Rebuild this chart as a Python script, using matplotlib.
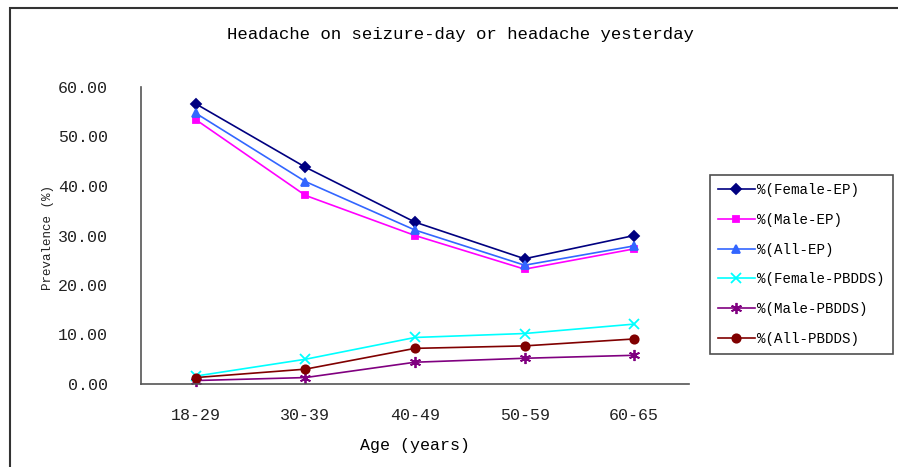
import matplotlib.pyplot as plt
import matplotlib.patches as patches

ages = ['18-29', '30-39', '40-49', '50-59', '60-65']
female_ep = [56.6, 43.8, 32.7, 25.3, 30.0]
male_ep = [53.4, 38.1, 30.0, 23.2, 27.3]
all_ep = [54.7, 40.9, 31.1, 24.0, 27.9]
female_pbdds = [1.6, 5.0, 9.4, 10.2, 12.1]
male_pbdds = [0.7, 1.3, 4.4, 5.2, 5.8]
all_pbdds = [1.3, 3.0, 7.2, 7.7, 9.1]
yticks = [0, 10, 20, 30, 40, 50, 60]

plt.rcParams['font.family'] = ['Liberation Mono', 'DejaVu Sans Mono']

fig = plt.figure(figsize=(8.98, 4.67), dpi=100)
ax = fig.add_axes([141 / 898, 1 - 384 / 467, 548 / 898, 297 / 467])

x = list(range(len(ages)))
series = [
    (female_ep, '%(Female-EP)', '#000080', 'D', 5),
    (male_ep, '%(Male-EP)', '#ff00ff', 's', 5),
    (all_ep, '%(All-EP)', '#3366ff', '^', 6),
    (female_pbdds, '%(Female-PBDDS)', '#00ffff', 'x', 7),
    (male_pbdds, '%(Male-PBDDS)', '#800080', (6, 2, 0), 8),
    (all_pbdds, '%(All-PBDDS)', '#800000', 'o', 6),
]
for vals, lab, col, mk, ms in series:
    ax.plot(x, vals, color=col, marker=mk, ms=ms, lw=1.2, mew=1.3,
            label=lab, clip_on=False)

ax.set_xlim(-0.5, len(ages) - 0.5)
ax.set_ylim(0, 60)
ax.set_xticks(x)
ax.set_xticklabels(ages, fontsize=12)
ax.set_yticks(yticks)
ax.set_yticklabels(['%.2f' % v for v in yticks], fontsize=12)
ax.tick_params(length=0, colors='#222222')
ax.tick_params(axis='y', pad=24)
ax.tick_params(axis='x', pad=17)
for s in ['top', 'right']:
    ax.spines[s].set_visible(False)
for s in ['left', 'bottom']:
    ax.spines[s].set_color('#555555')
    ax.spines[s].set_linewidth(1.2)

ax.set_xlabel('Age (years)', fontsize=12, labelpad=11)
fig.text(48 / 898, 1 - 237 / 467, 'Prevalence (%)', rotation=90,
         fontsize=9, ha='center', va='center', color='#222222')
fig.text(460 / 898, 1 - 35 / 467, 'Headache on seizure-day or headache yesterday',
         fontsize=12.5, ha='center', va='center')

leg = fig.legend(loc='upper left', bbox_to_anchor=(710 / 898, 1 - 175 / 467),
                 borderaxespad=0, fontsize=10.2, frameon=True, fancybox=False,
                 handlelength=2.6, labelspacing=1.12, handletextpad=0.2,
                 borderpad=0.55)
leg.get_frame().set_edgecolor('#222222')
leg.get_frame().set_linewidth(1.2)

frame = patches.Rectangle((10 / 898, -0.2), 1.2, 1 - 8 / 467 + 0.2,
                          transform=fig.transFigure, fill=False,
                          edgecolor='#333333', lw=1.5, clip_on=False)
fig.patches.append(frame)

fig.savefig('out.png', dpi=100)
